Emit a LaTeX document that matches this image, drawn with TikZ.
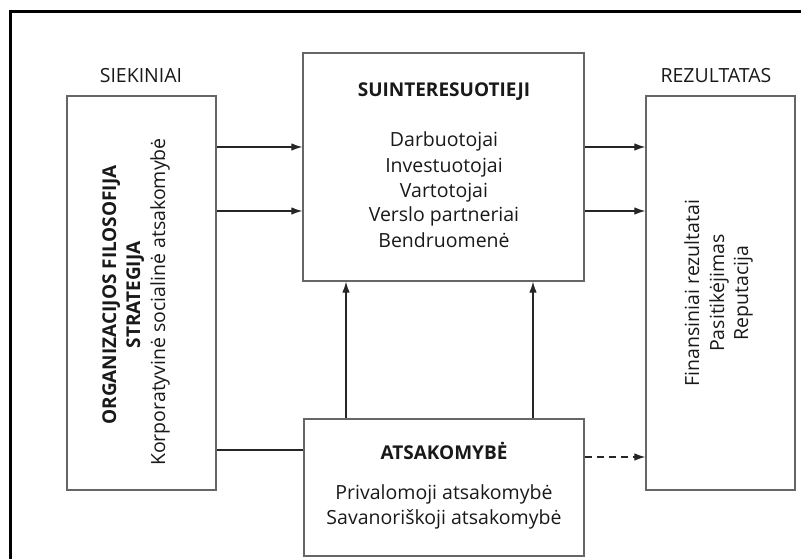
\documentclass[tikz,border=0pt]{standalone}
\usepackage{fontspec}
\setmainfont{Open Sans}
\usetikzlibrary{arrows.meta}

\begin{document}
\begin{tikzpicture}[x=1pt,y=-1pt,
  box/.style={draw=black!60,line width=1.3pt,rectangle,inner sep=0pt},
  txt/.style={font=\fontsize{19.5}{25}\selectfont,text=black!90,anchor=base,inner sep=0pt},
  head/.style={txt,font=\fontsize{19}{25}\selectfont\bfseries},
  arr/.style={draw=black!85,line width=1.1pt,-{Latex[length=11pt,width=7.5pt]}},
  link/.style={draw=black!85,line width=1.1pt},
  dasharr/.style={arr,dash pattern=on 7pt off 5pt}]

\useasboundingbox (0,0) rectangle (801,559);

% outer frame (only its top and left edges fall inside the page)
\draw[line width=3pt] (10,575) -- (10,12) -- (815,12);

% boxes
\node[box,minimum width=149pt,minimum height=394pt] (goals) at (141.5,293) {};
\node[box,minimum width=149pt,minimum height=394pt] (result) at (720.5,293) {};
\node[box,minimum width=281pt,minimum height=228pt] (stake) at (443.5,167) {};
\node[box,minimum width=280pt,minimum height=137pt] (resp) at (444,487.5) {};

% column titles
\node[txt] (tgoals) at (141,83) {SIEKINIAI};
\node[txt] (tresult) at (716,83) {REZULTATAS};

% stakeholders
\node[head] (s0) at (444,97) {SUINTERESUOTIEJI};
\node[txt] (s1) at (444,147) {Darbuotojai};
\node[txt] (s2) at (444,172) {Investuotojai};
\node[txt] (s3) at (444,197) {Vartotojai};
\node[txt] (s4) at (444,222) {Verslo partneriai};
\node[txt] (s5) at (444,247) {Bendruomenė};

% responsibility
\node[head] (r0) at (444,459) {ATSAKOMYBĖ};
\node[txt] (r1) at (444,499) {Privalomoji atsakomybė};
\node[txt] (r2) at (444,524) {Savanoriškoji atsakomybė};

% rotated texts
\node[head,rotate=90] (g1) at (116,295) {ORGANIZACIJOS FILOSOFIJA};
\node[head,rotate=90] (g2) at (140,295) {STRATEGIJA};
\node[txt,rotate=90] (g3) at (165,302) {Korporatyvinė socialinė atsakomybė};

\node[txt,rotate=90] (f1) at (699,293) {Finansiniai rezultatai};
\node[txt,rotate=90] (f2) at (724,293) {Pasitikėjimas};
\node[txt,rotate=90] (f3) at (748,293) {Reputacija};

% connector levels
\coordinate (ya) at (0,147);
\coordinate (yb) at (0,211);
\coordinate (yc) at (0,450);
\coordinate (yd) at (0,457);
\coordinate (xa) at (346,0);
\coordinate (xb) at (533,0);

% connectors
\draw[arr] (goals.east |- ya) -- (stake.west |- ya);
\draw[arr] (goals.east |- yb) -- (stake.west |- yb);
\draw[arr] (stake.east |- ya) -- (result.west |- ya);
\draw[arr] (stake.east |- yb) -- (result.west |- yb);
\draw[link] (goals.east |- yc) -- (resp.west |- yc);
\draw[arr] (resp.north -| xa) -- (stake.south -| xa);
\draw[arr] (resp.north -| xb) -- (stake.south -| xb);
\draw[dasharr] (resp.east |- yd) -- (result.west |- yd);
\end{tikzpicture}
\end{document}
